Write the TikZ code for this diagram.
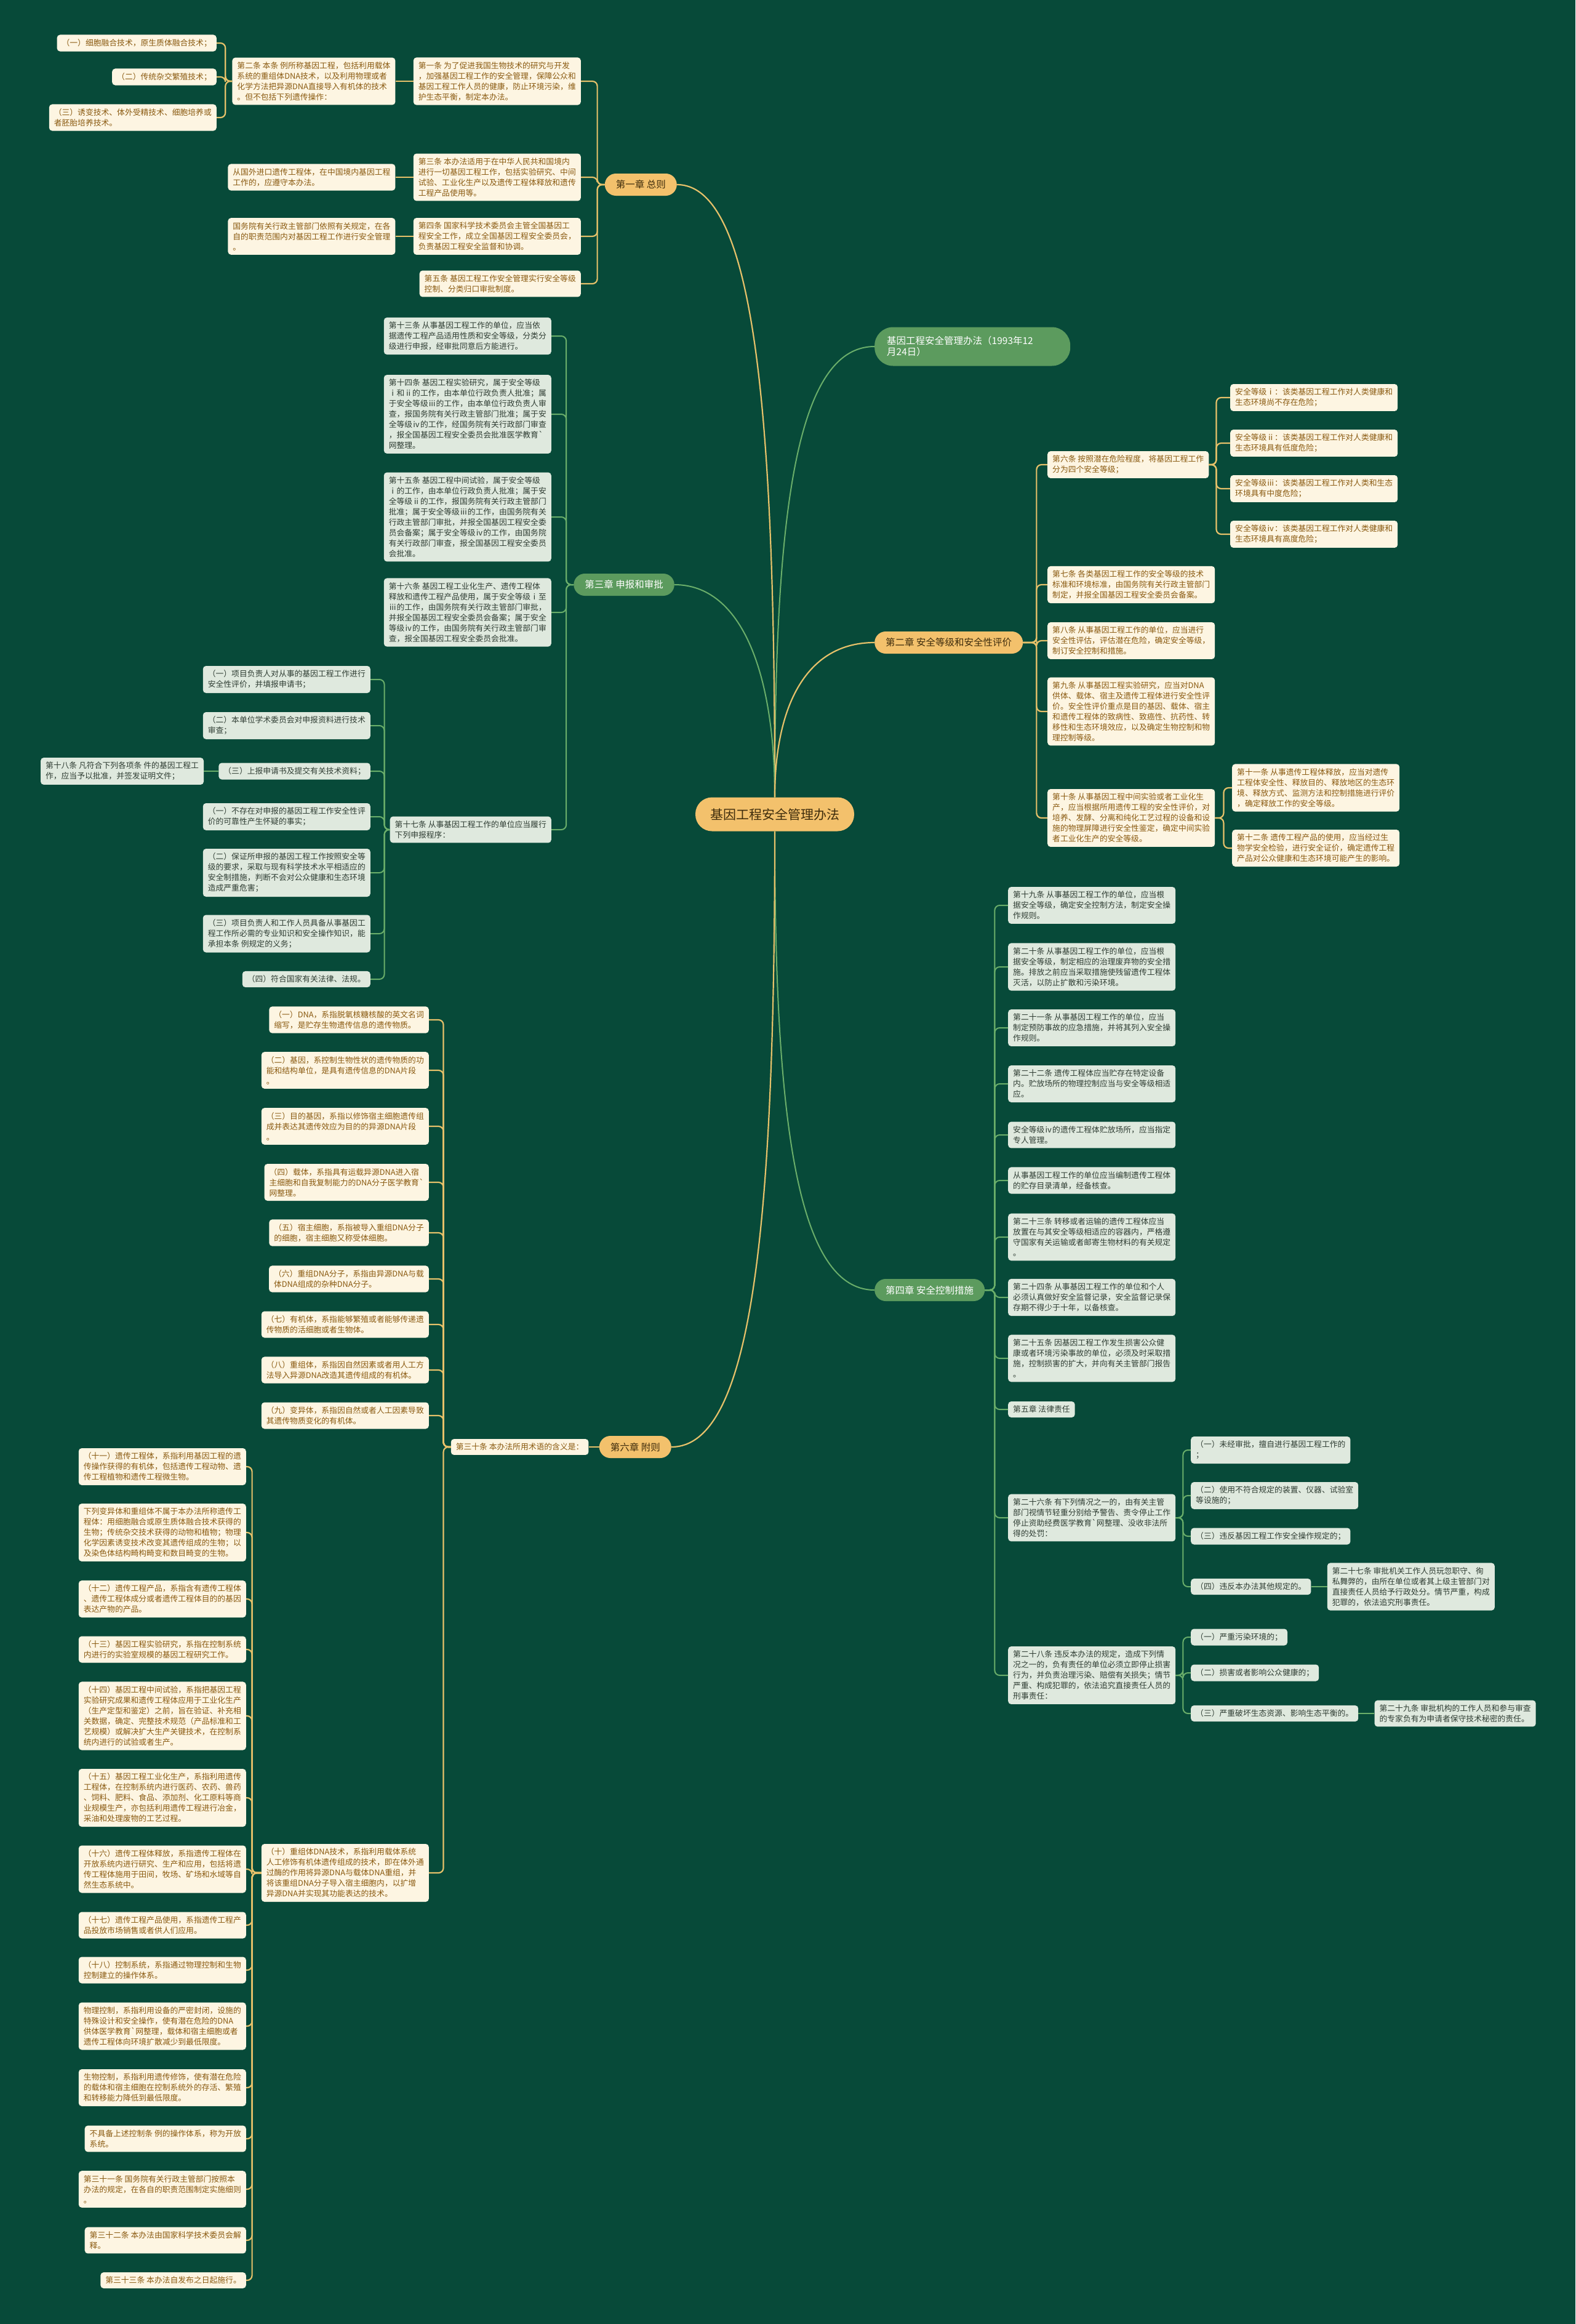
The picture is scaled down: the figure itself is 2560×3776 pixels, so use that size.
\documentclass[tikz,border=0pt]{standalone}
\usepackage{fontspec}
\setmainfont{Noto Sans CJK SC}
\usetikzlibrary{positioning}
\definecolor{colBg}{HTML}{074A39}
\definecolor{colCream}{HTML}{FDF5E2}
\definecolor{colBrown}{HTML}{8A5A10}
\definecolor{colGrey}{HTML}{DFE9DE}
\definecolor{colDark}{HTML}{2F3D33}
\definecolor{colOrange}{HTML}{F3C16C}
\definecolor{colDeep}{HTML}{3E2C0C}
\definecolor{colGreen}{HTML}{5C9B5E}
\definecolor{colOline}{HTML}{E6C16A}
\definecolor{colGline}{HTML}{6AAE6A}
\begin{document}
\begin{tikzpicture}[x=1pt, y=-1pt,
    every node/.style={align=left, inner xsep=8pt, inner ysep=7pt, rounded corners=5pt, font=\fontsize{12.8}{17}\selectfont},
    obox/.style={fill=colCream, text=colBrown},
    gbox/.style={fill=colGrey, text=colDark},
    chap/.style={rounded corners=18pt, minimum height=36pt, inner xsep=18pt, inner ysep=4pt, font=\fontsize{15.5}{18}\selectfont},
    ochap/.style={chap, fill=colOrange, text=colDeep},
    gchap/.style={chap, fill=colGreen, text=white},
    oline/.style={draw=colOline, line width=2.2pt, rounded corners=8pt},
    gline/.style={draw=colGline, line width=2pt, rounded corners=8pt}
]
    \useasboundingbox (0,0) rectangle (2560,3776);
    \fill[colBg] (0,0) rectangle (2560,3776);

    \node[ochap, font=\fontsize{21}{24}\selectfont, minimum height=55pt, rounded corners=27pt, inner xsep=24pt] (root) at (1259,1323) {基因工程安全管理办法};
    \node[gchap, anchor=west, minimum height=63pt, text width=278pt, rounded corners=30pt, inner xsep=20pt] (title) at (1421,563) {基因工程安全管理办法（1993年12\\月24日）};
    \node[ochap, anchor=east] (c1) at (1100,300) {第一章 总则};
    \node[gchap, anchor=east] (c3) at (1096,950) {第三章 申报和审批};
    \node[ochap, anchor=west] (c2) at (1421,1044) {第二章 安全等级和安全性评价};
    \node[gchap, anchor=west] (c4) at (1421,2096) {第四章 安全控制措施};
    \node[ochap, anchor=east] (c6) at (1091,2351) {第六章 附则};

    \draw[gline] (root.north) .. controls +(0,-450) and +(-130,0) .. (title.west);
    \draw[oline] (root.north) .. controls +(0,-600) and +(130,0) .. (c1.east);
    \draw[gline] (root.north) .. controls +(0,-200) and +(110,0) .. (c3.east);
    \draw[oline] (root.north) .. controls +(0,-150) and +(-110,0) .. (c2.west);
    \draw[gline] (root.south) .. controls +(0,450) and +(-130,0) .. (c4.west);
    \draw[oline] (root.south) .. controls +(0,650) and +(130,0) .. (c6.east);

    \node[obox, anchor=east] (a1) at (944,132) {第一条 为了促进我国生物技术的研究与开发\\，加强基因工程工作的安全管理，保障公众和\\基因工程工作人员的健康，防止环境污染，维\\护生态平衡，制定本办法。};
    \node[obox, left=29pt of a1] (a2) {第二条 本条 例所称基因工程，包括利用载体\\系统的重组体DNA技术，以及利用物理或者\\化学方法把异源DNA直接导入有机体的技术\\。但不包括下列遗传操作：};
    \node[obox, anchor=east] (a2i) at (352,70) {（一）细胞融合技术，原生质体融合技术；};
    \node[obox, anchor=east] (a2ii) at (352,125) {（二）传统杂交繁殖技术；};
    \node[obox, anchor=east] (a2iii) at (352,191) {（三）诱变技术、体外受精技术、细胞培养或\\者胚胎培养技术。};
    \node[obox, anchor=east] (a3) at (944,288) {第三条 本办法适用于在中华人民共和国境内\\进行一切基因工程工作，包括实验研究、中间\\试验、工业化生产以及遗传工程体释放和遗传\\工程产品使用等。};
    \node[obox, left=29pt of a3] (a3x) {从国外进口遗传工程体，在中国境内基因工程\\工作的，应遵守本办法。};
    \node[obox, anchor=east] (a4) at (944,384) {第四条 国家科学技术委员会主管全国基因工\\程安全工作，成立全国基因工程安全委员会，\\负责基因工程安全监督和协调。};
    \node[obox, left=29pt of a4] (a4x) {国务院有关行政主管部门依照有关规定，在各\\自的职责范围内对基因工程工作进行安全管理\\。};
    \node[obox, anchor=east] (a5) at (944,461) {第五条 基因工程工作安全管理实行安全等级\\控制、分类归口审批制度。};

    \draw[oline] (c1.west) -- ++(-12,0) |- (a1.east);
    \draw[oline] (c1.west) -- ++(-12,0) |- (a3.east);
    \draw[oline] (c1.west) -- ++(-12,0) |- (a4.east);
    \draw[oline] (c1.west) -- ++(-12,0) |- (a5.east);
    \draw[oline] (a1.west) -- (a2.east);
    \draw[oline] (a2.west) -- ++(-11,0) |- (a2i.east);
    \draw[oline] (a2.west) -- ++(-11,0) |- (a2ii.east);
    \draw[oline] (a2.west) -- ++(-11,0) |- (a2iii.east);
    \draw[oline] (a3.west) -- (a3x.east);
    \draw[oline] (a4.west) -- (a4x.east);

    \node[gbox, anchor=east] (b13) at (896,546) {第十三条 从事基因工程工作的单位，应当依\\据遗传工程产品适用性质和安全等级，分类分\\级进行申报，经审批同意后方能进行。};
    \node[gbox, anchor=east] (b14) at (896,673) {第十四条 基因工程实验研究，属于安全等级\\ⅰ和ⅱ的工作，由本单位行政负责人批准；属\\于安全等级ⅲ的工作，由本单位行政负责人审\\查，报国务院有关行政主管部门批准；属于安\\全等级ⅳ的工作，经国务院有关行政部门审查\\，报全国基因工程安全委员会批准医学教育\textasciigrave\\网整理。};
    \node[gbox, anchor=east] (b15) at (896,840) {第十五条 基因工程中间试验，属于安全等级\\ⅰ的工作，由本单位行政负责人批准；属于安\\全等级ⅱ的工作，报国务院有关行政主管部门\\批准；属于安全等级ⅲ的工作，由国务院有关\\行政主管部门审批，并报全国基因工程安全委\\员会备案；属于安全等级ⅳ的工作，由国务院\\有关行政部门审查，报全国基因工程安全委员\\会批准。};
    \node[gbox, anchor=east] (b16) at (896,995) {第十六条 基因工程工业化生产、遗传工程体\\释放和遗传工程产品使用，属于安全等级ⅰ至\\ⅲ的工作，由国务院有关行政主管部门审批，\\并报全国基因工程安全委员会备案；属于安全\\等级ⅳ的工作，由国务院有关行政主管部门审\\查，报全国基因工程安全委员会批准。};
    \node[gbox, anchor=east] (b17) at (896,1348) {第十七条 从事基因工程工作的单位应当履行\\下列申报程序：};
    \node[gbox, anchor=east] (d1) at (602,1104) {（一）项目负责人对从事的基因工程工作进行\\安全性评价，并填报申请书；};
    \node[gbox, anchor=east] (d2) at (602,1179) {（二）本单位学术委员会对申报资料进行技术\\审查；};
    \node[gbox, anchor=east] (d3) at (602,1253) {（三）上报申请书及提交有关技术资料；};
    \node[gbox, left=24pt of d3] (e18) {第十八条 凡符合下列各项条 件的基因工程工\\作，应当予以批准，并签发证明文件；};
    \node[gbox, anchor=east] (d4) at (602,1327) {（一）不存在对申报的基因工程工作安全性评\\价的可靠性产生怀疑的事实；};
    \node[gbox, anchor=east] (d5) at (602,1418) {（二）保证所申报的基因工程工作按照安全等\\级的要求，采取与现有科学技术水平相适应的\\安全制措施，判断不会对公众健康和生态环境\\造成严重危害；};
    \node[gbox, anchor=east] (d6) at (602,1517) {（三）项目负责人和工作人员具备从事基因工\\程工作所必需的专业知识和安全操作知识，能\\承担本条 例规定的义务；};
    \node[gbox, anchor=east] (d7) at (602,1591) {（四）符合国家有关法律、法规。};

    \draw[gline] (c3.west) -- ++(-12,0) |- (b13.east);
    \draw[gline] (c3.west) -- ++(-12,0) |- (b14.east);
    \draw[gline] (c3.west) -- ++(-12,0) |- (b15.east);
    \draw[gline] (c3.west) -- ++(-12,0) |- (b16.east);
    \draw[gline] (c3.west) -- ++(-12,0) |- (b17.east);
    \draw[gline] (b17.west) -- ++(-9,0) |- (d1.east);
    \draw[gline] (b17.west) -- ++(-9,0) |- (d2.east);
    \draw[gline] (b17.west) -- ++(-9,0) |- (d3.east);
    \draw[gline] (b17.west) -- ++(-9,0) |- (d4.east);
    \draw[gline] (b17.west) -- ++(-9,0) |- (d5.east);
    \draw[gline] (b17.west) -- ++(-9,0) |- (d6.east);
    \draw[gline] (b17.west) -- ++(-9,0) |- (d7.east);
    \draw[gline] (d3.west) -- (e18.east);

    \node[obox, anchor=west] (f6) at (1702,755) {第六条 按照潜在危险程度，将基因工程工作\\分为四个安全等级；};
    \node[obox, anchor=west] (L1) at (1999,646) {安全等级ⅰ：该类基因工程工作对人类健康和\\生态环境尚不存在危险；};
    \node[obox, anchor=west] (L2) at (1999,720) {安全等级ⅱ：该类基因工程工作对人类健康和\\生态环境具有低度危险；};
    \node[obox, anchor=west] (L3) at (1999,794) {安全等级ⅲ：该类基因工程工作对人类和生态\\环境具有中度危险；};
    \node[obox, anchor=west] (L4) at (1999,868) {安全等级ⅳ：该类基因工程工作对人类健康和\\生态环境具有高度危险；};
    \node[obox, anchor=west] (f7) at (1702,950) {第七条 各类基因工程工作的安全等级的技术\\标准和环境标准，由国务院有关行政主管部门\\制定，并报全国基因工程安全委员会备案。};
    \node[obox, anchor=west] (f8) at (1702,1041) {第八条 从事基因工程工作的单位，应当进行\\安全性评估，评估潜在危险，确定安全等级，\\制订安全控制和措施。};
    \node[obox, anchor=west] (f9) at (1702,1156) {第九条 从事基因工程实验研究，应当对DNA\\供体、载体、宿主及遗传工程体进行安全性评\\价。安全性评价重点是目的基因、载体、宿主\\和遗传工程体的致病性、致癌性、抗药性、转\\移性和生态环境效应，以及确定生物控制和物\\理控制等级。};
    \node[obox, anchor=west] (f10) at (1702,1329) {第十条 从事基因工程中间实验或者工业化生\\产，应当根据所用遗传工程的安全性评价，对\\培养、发酵、分离和纯化工艺过程的设备和设\\施的物理屏障进行安全性鉴定，确定中间实验\\者工业化生产的安全等级。};
    \node[obox, anchor=west] (f11) at (2002,1280) {第十一条 从事遗传工程体释放，应当对遗传\\工程体安全性、释放目的、释放地区的生态环\\境、释放方式、监测方法和控制措施进行评价\\，确定释放工作的安全等级。};
    \node[obox, anchor=west] (f12) at (2002,1378) {第十二条 遗传工程产品的使用，应当经过生\\物学安全检验，进行安全证价，确定遗传工程\\产品对公众健康和生态环境可能产生的影响。};

    \draw[oline] (c2.east) -- ++(22,0) |- (f6.west);
    \draw[oline] (c2.east) -- ++(22,0) |- (f7.west);
    \draw[oline] (c2.east) -- ++(22,0) |- (f8.west);
    \draw[oline] (c2.east) -- ++(22,0) |- (f9.west);
    \draw[oline] (c2.east) -- ++(22,0) |- (f10.west);
    \draw[oline] (f6.east) -- ++(12,0) |- (L1.west);
    \draw[oline] (f6.east) -- ++(12,0) |- (L2.west);
    \draw[oline] (f6.east) -- ++(12,0) |- (L3.west);
    \draw[oline] (f6.east) -- ++(12,0) |- (L4.west);
    \draw[oline] (f10.east) -- ++(14,0) |- (f11.west);
    \draw[oline] (f10.east) -- ++(14,0) |- (f12.west);

    \node[gbox, anchor=west] (g19) at (1638,1471) {第十九条 从事基因工程工作的单位，应当根\\据安全等级，确定安全控制方法，制定安全操\\作规则。};
    \node[gbox, anchor=west] (g20) at (1638,1571) {第二十条 从事基因工程工作的单位，应当根\\据安全等级，制定相应的治理废弃物的安全措\\施。排放之前应当采取措施使残留遗传工程体\\灭活，以防止扩散和污染环境。};
    \node[gbox, anchor=west] (g21) at (1638,1670) {第二十一条 从事基因工程工作的单位，应当\\制定预防事故的应急措施，并将其列入安全操\\作规则。};
    \node[gbox, anchor=west] (g22) at (1638,1761) {第二十二条 遗传工程体应当贮存在特定设备\\内。贮放场所的物理控制应当与安全等级相适\\应。};
    \node[gbox, anchor=west] (g22b) at (1638,1844) {安全等级ⅳ的遗传工程体贮放场所，应当指定\\专人管理。};
    \node[gbox, anchor=west] (g22c) at (1638,1918) {从事基因工程工作的单位应当编制遗传工程体\\的贮存目录清单，经备核查。};
    \node[gbox, anchor=west] (g23) at (1638,2010) {第二十三条 转移或者运输的遗传工程体应当\\放置在与其安全等级相适应的容器内，严格遵\\守国家有关运输或者邮寄生物材料的有关规定\\。};
    \node[gbox, anchor=west] (g24) at (1638,2108) {第二十四条 从事基因工程工作的单位和个人\\必须认真做好安全监督记录，安全监督记录保\\存期不得少于十年，以备核查。};
    \node[gbox, anchor=west] (g25) at (1638,2207) {第二十五条 因基因工程工作发生损害公众健\\康或者环境污染事故的单位，必须及时采取措\\施，控制损害的扩大，并向有关主管部门报告\\。};
    \node[gbox, anchor=west] (g5) at (1638,2290) {第五章 法律责任};
    \node[gbox, anchor=west] (g26) at (1638,2466) {第二十六条 有下列情况之一的，由有关主管\\部门视情节轻重分别给予警告、责令停止工作\\停止资助经费医学教育\textasciigrave 网整理、没收非法所\\得的处罚：};
    \node[gbox, anchor=west] (h1) at (1935,2356) {（一）未经审批，擅自进行基因工程工作的\\；};
    \node[gbox, anchor=west] (h2) at (1935,2430) {（二）使用不符合规定的装置、仪器、试验室\\等设施的；};
    \node[gbox, anchor=west] (h3) at (1935,2496) {（三）违反基因工程工作安全操作规定的；};
    \node[gbox, anchor=west] (h4) at (1935,2578) {（四）违反本办法其他规定的。};
    \node[gbox, right=26pt of h4] (h27) {第二十七条 审批机关工作人员玩忽职守、徇\\私舞弊的，由所在单位或者其上级主管部门对\\直接责任人员给予行政处分。情节严重，构成\\犯罪的，依法追究刑事责任。};
    \node[gbox, anchor=west] (g28) at (1638,2722) {第二十八条 违反本办法的规定，造成下列情\\况之一的，负有责任的单位必须立即停止损害\\行为，并负责治理污染、赔偿有关损失；情节\\严重、构成犯罪的，依法追究直接责任人员的\\刑事责任：};
    \node[gbox, anchor=west] (k1) at (1935,2660) {（一）严重污染环境的；};
    \node[gbox, anchor=west] (k2) at (1935,2718) {（二）损害或者影响公众健康的；};
    \node[gbox, anchor=west] (k3) at (1935,2784) {（三）严重破坏生态资源、影响生态平衡的。};
    \node[gbox, right=26pt of k3] (k29) {第二十九条 审批机构的工作人员和参与审查\\的专家负有为申请者保守技术秘密的责任。};

    \draw[gline] (c4.east) -- ++(16,0) |- (g19.west);
    \draw[gline] (c4.east) -- ++(16,0) |- (g20.west);
    \draw[gline] (c4.east) -- ++(16,0) |- (g21.west);
    \draw[gline] (c4.east) -- ++(16,0) |- (g22.west);
    \draw[gline] (c4.east) -- ++(16,0) |- (g22b.west);
    \draw[gline] (c4.east) -- ++(16,0) |- (g22c.west);
    \draw[gline] (c4.east) -- ++(16,0) |- (g23.west);
    \draw[gline] (c4.east) -- ++(16,0) |- (g24.west);
    \draw[gline] (c4.east) -- ++(16,0) |- (g25.west);
    \draw[gline] (c4.east) -- ++(16,0) |- (g5.west);
    \draw[gline] (c4.east) -- ++(16,0) |- (g26.west);
    \draw[gline] (c4.east) -- ++(16,0) |- (g28.west);
    \draw[gline] (g26.east) -- ++(12,0) |- (h1.west);
    \draw[gline] (g26.east) -- ++(12,0) |- (h2.west);
    \draw[gline] (g26.east) -- ++(12,0) |- (h3.west);
    \draw[gline] (g26.east) -- ++(12,0) |- (h4.west);
    \draw[gline] (h4.east) -- (h27.west);
    \draw[gline] (g28.east) -- ++(12,0) |- (k1.west);
    \draw[gline] (g28.east) -- ++(12,0) |- (k2.west);
    \draw[gline] (g28.east) -- ++(12,0) |- (k3.west);
    \draw[gline] (k3.east) -- (k29.west);

    \node[obox, left=17pt of c6] (m30) {第三十条 本办法所用术语的含义是：};
    \node[obox, anchor=east] (n1) at (697,1657) {（一）DNA，系指脱氧核糖核酸的英文名词\\缩写，是贮存生物遗传信息的遗传物质。};
    \node[obox, anchor=east] (n2) at (697,1739) {（二）基因，系控制生物性状的遗传物质的功\\能和结构单位，是具有遗传信息的DNA片段\\。};
    \node[obox, anchor=east] (n3) at (697,1830) {（三）目的基因，系指以修饰宿主细胞遗传组\\成并表达其遗传效应为目的的异源DNA片段\\。};
    \node[obox, anchor=east] (n4) at (697,1921) {（四）载体，系指具有运载异源DNA进入宿\\主细胞和自我复制能力的DNA分子医学教育\textasciigrave\\网整理。};
    \node[obox, anchor=east] (n5) at (697,2003) {（五）宿主细胞，系指被导入重组DNA分子\\的细胞，宿主细胞又称受体细胞。};
    \node[obox, anchor=east] (n6) at (697,2078) {（六）重组DNA分子，系指由异源DNA与载\\体DNA组成的杂种DNA分子。};
    \node[obox, anchor=east] (n7) at (697,2152) {（七）有机体，系指能够繁殖或者能够传递遗\\传物质的活细胞或者生物体。};
    \node[obox, anchor=east] (n8) at (697,2226) {（八）重组体，系指因自然因素或者用人工方\\法导入异源DNA改造其遗传组成的有机体。};
    \node[obox, anchor=east] (n9) at (697,2300) {（九）变异体，系指因自然或者人工因素导致\\其遗传物质变化的有机体。};
    \node[obox, anchor=east] (n10) at (697,3043) {（十）重组体DNA技术，系指利用载体系统\\人工修饰有机体遗传组成的技术，即在体外通\\过酶的作用将异源DNA与载体DNA重组，并\\将该重组DNA分子导入宿主细胞内，以扩增\\异源DNA并实现其功能表达的技术。};

    \node[obox, anchor=east] (p11) at (400,2383) {（十一）遗传工程体，系指利用基因工程的遗\\传操作获得的有机体，包括遗传工程动物、遗\\传工程植物和遗传工程微生物。};
    \node[obox, anchor=east] (p11b) at (400,2490) {下列变异体和重组体不属于本办法所称遗传工\\程体：用细胞融合或原生质体融合技术获得的\\生物；传统杂交技术获得的动物和植物；物理\\化学因素诱变技术改变其遗传组成的生物；以\\及染色体结构畸构畸变和数目畸变的生物。};
    \node[obox, anchor=east] (p12) at (400,2598) {（十二）遗传工程产品，系指含有遗传工程体\\、遗传工程体成分或者遗传工程体目的的基因\\表达产物的产品。};
    \node[obox, anchor=east] (p13) at (400,2680) {（十三）基因工程实验研究，系指在控制系统\\内进行的实验室规模的基因工程研究工作。};
    \node[obox, anchor=east] (p14) at (400,2788) {（十四）基因工程中间试验，系指把基因工程\\实验研究成果和遗传工程体应用于工业化生产\\（生产定型和鉴定）之前，旨在验证、补充相\\关数据，确定、完整技术规范（产品标准和工\\艺规模）或解决扩大生产关键技术，在控制系\\统内进行的试验或者生产。};
    \node[obox, anchor=east] (p15) at (400,2921) {（十五）基因工程工业化生产，系指利用遗传\\工程体，在控制系统内进行医药、农药、兽药\\、饲料、肥料、食品、添加剂、化工原料等商\\业规模生产，亦包括利用遗传工程进行冶金，\\采油和处理废物的工艺过程。};
    \node[obox, anchor=east] (p16) at (400,3037) {（十六）遗传工程体释放，系指遗传工程体在\\开放系统内进行研究、生产和应用，包括将遗\\传工程体施用于田间，牧场、矿场和水域等自\\然生态系统中。};
    \node[obox, anchor=east] (p17) at (400,3128) {（十七）遗传工程产品使用，系指遗传工程产\\品投放市场销售或者供人们应用。};
    \node[obox, anchor=east] (p18) at (400,3201) {（十八）控制系统，系指通过物理控制和生物\\控制建立的操作体系。};
    \node[obox, anchor=east] (p18a) at (400,3292) {物理控制，系指利用设备的严密封闭，设施的\\特殊设计和安全操作，使有潜在危险的DNA\\供体医学教育\textasciigrave 网整理，载体和宿主细胞或者\\遗传工程体向环境扩散减少到最低限度。};
    \node[obox, anchor=east] (p18b) at (400,3392) {生物控制，系指利用遗传修饰，使有潜在危险\\的载体和宿主细胞在控制系统外的存活、繁殖\\和转移能力降低到最低限度。};
    \node[obox, anchor=east] (p18c) at (400,3475) {不具备上述控制条 例的操作体系，称为开放\\系统。};
    \node[obox, anchor=east] (p31) at (400,3557) {第三十一条 国务院有关行政主管部门按照本\\办法的规定，在各自的职责范围制定实施细则\\。};
    \node[obox, anchor=east] (p32) at (400,3640) {第三十二条 本办法由国家科学技术委员会解\\释。};
    \node[obox, anchor=east] (p33) at (400,3705) {第三十三条 本办法自发布之日起施行。};

    \draw[oline] (c6.west) -- (m30.east);
    \draw[oline] (m30.west) -- ++(-12,0) |- (n1.east);
    \draw[oline] (m30.west) -- ++(-12,0) |- (n2.east);
    \draw[oline] (m30.west) -- ++(-12,0) |- (n3.east);
    \draw[oline] (m30.west) -- ++(-12,0) |- (n4.east);
    \draw[oline] (m30.west) -- ++(-12,0) |- (n5.east);
    \draw[oline] (m30.west) -- ++(-12,0) |- (n6.east);
    \draw[oline] (m30.west) -- ++(-12,0) |- (n7.east);
    \draw[oline] (m30.west) -- ++(-12,0) |- (n8.east);
    \draw[oline] (m30.west) -- ++(-12,0) |- (n9.east);
    \draw[oline] (m30.west) -- ++(-12,0) |- (n10.east);
    \draw[oline] (n10.west) -- ++(-15,0) |- (p11.east);
    \draw[oline] (n10.west) -- ++(-15,0) |- (p11b.east);
    \draw[oline] (n10.west) -- ++(-15,0) |- (p12.east);
    \draw[oline] (n10.west) -- ++(-15,0) |- (p13.east);
    \draw[oline] (n10.west) -- ++(-15,0) |- (p14.east);
    \draw[oline] (n10.west) -- ++(-15,0) |- (p15.east);
    \draw[oline] (n10.west) -- ++(-15,0) |- (p16.east);
    \draw[oline] (n10.west) -- ++(-15,0) |- (p17.east);
    \draw[oline] (n10.west) -- ++(-15,0) |- (p18.east);
    \draw[oline] (n10.west) -- ++(-15,0) |- (p18a.east);
    \draw[oline] (n10.west) -- ++(-15,0) |- (p18b.east);
    \draw[oline] (n10.west) -- ++(-15,0) |- (p18c.east);
    \draw[oline] (n10.west) -- ++(-15,0) |- (p31.east);
    \draw[oline] (n10.west) -- ++(-15,0) |- (p32.east);
    \draw[oline] (n10.west) -- ++(-15,0) |- (p33.east);
\end{tikzpicture}
\end{document}
